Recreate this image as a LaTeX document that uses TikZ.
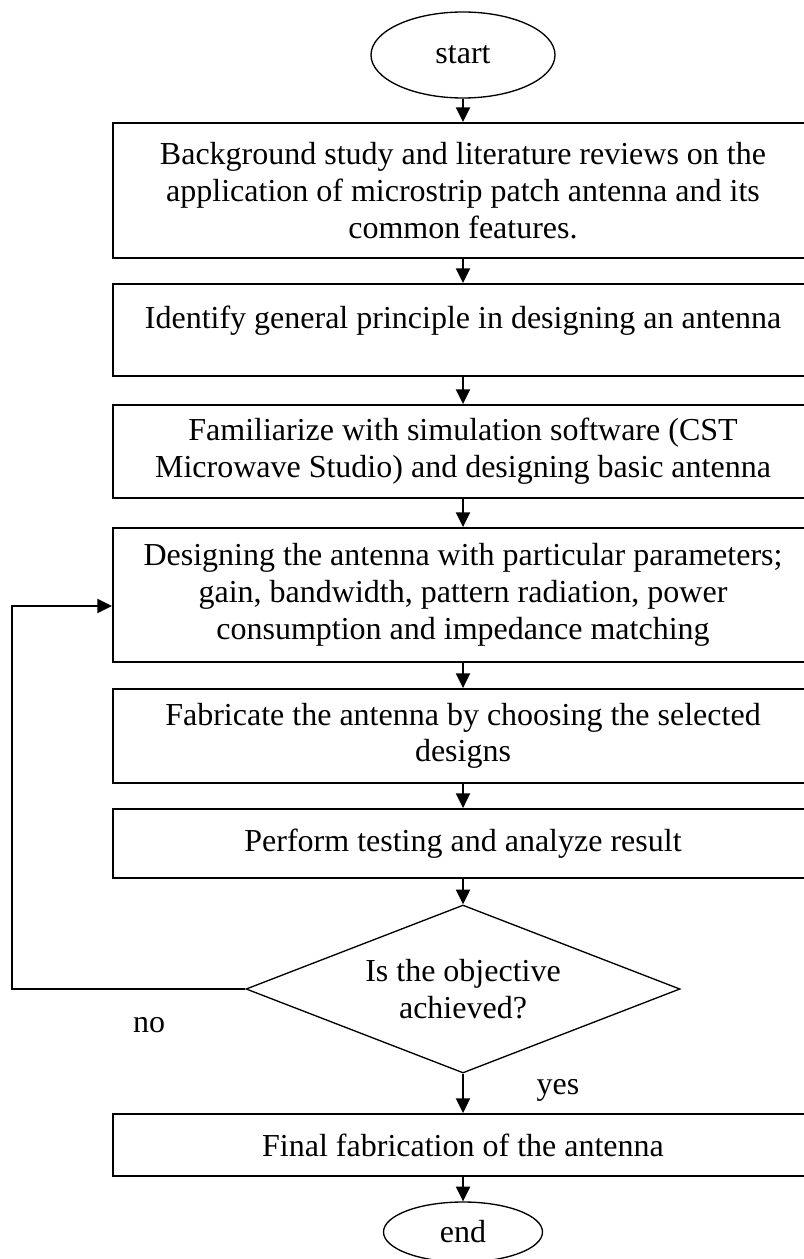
\documentclass[tikz,border=0pt]{standalone}
\usepackage{fontspec}
\setmainfont{Liberation Serif}
\usetikzlibrary{shapes.geometric,arrows.meta}
\begin{document}
\begin{tikzpicture}[x=0.75pt,y=-0.75pt,
  every node/.style={font=\fontsize{24pt}{27.5pt}\selectfont},
  pbox/.style={draw, line width=1.4pt, rectangle, minimum width=525pt, inner sep=0pt, align=center},
  term/.style={draw, line width=1pt, ellipse, inner sep=0pt},
  decide/.style={draw, line width=1pt, diamond, aspect=2.58, minimum width=325.5pt, minimum height=126pt, inner sep=0pt, align=center},
  arr/.style={line width=1.5pt, -{Triangle[length=11pt,width=10.5pt]}},
  lbl/.style={inner sep=0pt}]
\useasboundingbox (0,0) rectangle (803,1259);
\node[term, minimum width=138pt, minimum height=64.5pt] (s) at (463,55) {start};
\node[pbox, minimum height=101.25pt] (b1) at (463,190.5) {Background study and literature reviews on the\\application of microstrip patch antenna and its\\common features.};
\node[pbox, minimum height=69pt] (b2) at (463,330) {Identify general principle in designing an antenna\\[-8pt]\mbox{}};
\node[pbox, minimum height=69.75pt] (b3) at (463,451.5) {Familiarize with simulation software (CST\\Microwave Studio) and designing basic antenna};
\node[pbox, minimum height=100.5pt] (b4) at (463,595) {Designing the antenna with particular parameters;\\gain, bandwidth, pattern radiation, power\\consumption and impedance matching};
\node[pbox, minimum height=70.5pt] (b5) at (463,736) {Fabricate the antenna by choosing the selected\\designs};
\node[pbox, minimum height=51.75pt] (b6) at (463,843.5) {Perform testing and analyze result};
\node[decide] (d) at (463,989) {Is the objective\\achieved?};
\node[pbox, minimum height=46.5pt] (b7) at (463,1145) {Final fabrication of the antenna};
\node[term, minimum width=119.25pt, minimum height=45pt] (e) at (463,1232) {end};
\node[lbl] (no) at (149,1025) {no};
\node[lbl] (yes) at (558,1090) {yes};
\coordinate (lb) at (12,989);
\coordinate (lt) at (12,606);
\draw[arr] (s.south) -- (b1.north);
\draw[arr] (b1.south) -- (b2.north);
\draw[arr] (b2.south) -- (b3.north);
\draw[arr] (b3.south) -- (b4.north);
\draw[arr] (b4.south) -- (b5.north);
\draw[arr] (b5.south) -- (b6.north);
\draw[arr] (b6.south) -- (d.north);
\draw[arr] (d.south) -- (b7.north);
\draw[arr] (b7.south) -- (e.north);
\draw[arr] (d.west) -- (lb) -- (lt) -- (lt -| b4.west);
\end{tikzpicture}
\end{document}
